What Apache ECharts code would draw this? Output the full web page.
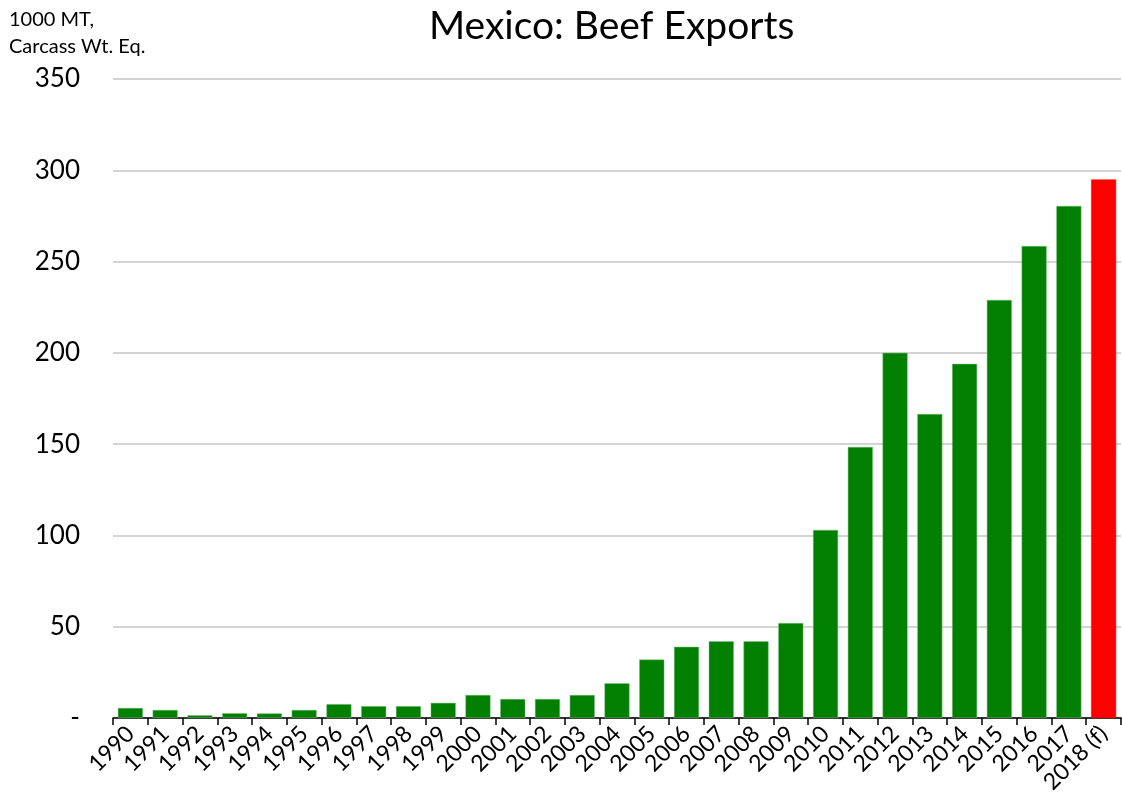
<!DOCTYPE html>
<html>
<head>
<meta charset="utf-8">
<script src="https://cdn.jsdelivr.net/npm/echarts@6/dist/echarts.min.js"></script>
<style>
  html, body { margin: 0; padding: 0; background: #fff; }
  #chart { width: 1122px; height: 808px; }
</style>
</head>
<body>
<div id="chart"></div>
<script>
// Mexico beef exports, 1000 MT carcass weight equivalent
const years = ['1990', '1991', '1992', '1993', '1994', '1995', '1996', '1997', '1998', '1999',
    '2000', '2001', '2002', '2003', '2004', '2005', '2006', '2007', '2008', '2009',
    '2010', '2011', '2012', '2013', '2014', '2015', '2016', '2017', '2018 (f)']
const exportsValues = [5.5, 4.4, 1.5, 2.6, 2.5, 4.4, 7.6, 6.5, 6.5, 8.3,
    12.6, 10.4, 10.4, 12.6, 19, 32, 39, 42, 42, 52,
    103, 148.5, 200, 166.5, 194, 229, 258.5, 280.5, 295]
const forecastLabel = '2018 (f)'
const yTicks = [0, 50, 100, 150, 200, 250, 300, 350]

const font = 'Lato, "DejaVu Sans", sans-serif'

let chart = echarts.init(document.getElementById('chart'))

const option = {
    backgroundColor: '#fff',
    animation: false,
    title: {
        text: 'Mexico: Beef Exports',
        left: 424,
        top: 2,
        textStyle: {
            fontFamily: font,
            fontSize: 39,
            fontWeight: 'normal',
            color: '#000'
        }
    },
    graphic: [{
        type: 'text',
        left: 9,
        top: 6,
        style: {
            text: '1000 MT,\nCarcass Wt. Eq.',
            fontFamily: font,
            fontSize: 20,
            lineHeight: 27,
            fill: '#000'
        }
    }],
    grid: {
        left: 113,
        right: 1,
        top: 79,
        bottom: 90,
        containLabel: false
    },
    xAxis: {
        type: 'category',
        data: years,
        axisLine: {
            show: true,
            lineStyle: { color: '#000', width: 1.5 }
        },
        axisTick: {
            show: true,
            length: 7,
            lineStyle: { color: '#000', width: 1.5 }
        },
        axisLabel: {
            interval: 0,
            rotate: 45,
            margin: 12,
            fontFamily: font,
            fontSize: 23,
            color: '#000'
        }
    },
    yAxis: {
        type: 'value',
        min: yTicks[0],
        max: yTicks[yTicks.length - 1],
        interval: 50,
        axisLine: { show: false },
        axisTick: { show: false },
        splitLine: {
            show: true,
            lineStyle: { color: '#c6c6c6', width: 1.5 }
        },
        axisLabel: {
            margin: 33,
            fontFamily: font,
            fontSize: 26,
            color: '#000',
            formatter: function (val) {
                return val === 0 ? '-' : String(val)
            }
        }
    },
    series: [{
        type: 'bar',
        barCategoryGap: '28%',
        data: exportsValues.map(function (v, i) {
            const isForecast = years[i] === forecastLabel
            return {
                value: v,
                itemStyle: {
                    color: isForecast ? '#ff0000' : '#007f00',
                    borderColor: isForecast ? '#ff0000' : '#7fbf7f',
                    borderWidth: 0.5
                }
            }
        })
    }]
}

chart.setOption(option)
</script>
</body>
</html>
